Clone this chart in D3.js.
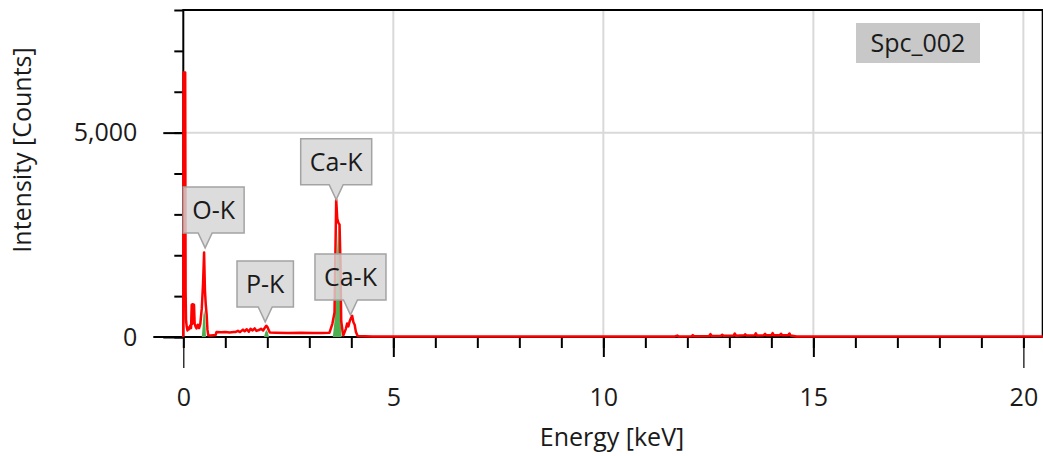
<!DOCTYPE html>
<html>
<head>
<meta charset="utf-8">
<script src="https://cdn.jsdelivr.net/npm/d3@7"></script>
<style>
  body { margin: 0; background: #fff; }
  svg text { font-family: "Open Sans", "Noto Sans", sans-serif; fill: #1a1a1a; }
</style>
</head>
<body>
<script>
// spectrum (keV / counts)
var specKeV = [0.000, 0.005, 0.045, 0.055, 0.065, 0.080, 0.100, 0.120, 0.140, 0.165,
  0.185, 0.200, 0.212, 0.225, 0.240, 0.255, 0.270, 0.290, 0.315, 0.345,
  0.375, 0.405, 0.440, 0.470, 0.495, 0.515, 0.535, 0.555, 0.575, 0.595,
  0.650, 0.720, 0.770, 0.790, 0.900, 1.000, 1.100, 1.200, 1.250, 1.300,
  1.350, 1.420, 1.460, 1.510, 1.560, 1.600, 1.650, 1.700, 1.740, 1.800,
  1.850, 1.900, 1.950, 1.975, 2.000, 2.030, 2.060, 2.200, 2.500, 2.800,
  3.100, 3.300, 3.480, 3.510, 3.550, 3.600, 3.640, 3.665, 3.690, 3.720,
  3.740, 3.760, 3.790, 3.810, 3.840, 3.870, 3.900, 3.930, 3.960, 3.990,
  4.020, 4.050, 4.080, 4.110, 4.150, 4.500, 6.000, 8.000, 10.000, 11.700,
  11.760, 11.790, 12.100, 12.130, 12.160, 12.520, 12.550, 12.580, 12.800, 12.830,
  12.860, 13.100, 13.130, 13.160, 13.350, 13.380, 13.410, 13.600, 13.630, 13.660,
  13.820, 13.850, 13.880, 14.000, 14.030, 14.060, 14.200, 14.230, 14.260, 14.400,
  14.430, 14.460, 14.600, 20.460];
var specCounts = [0, 6470, 6470, 1100, 420, 260, 160, 230, 190, 280,
  220, 790, 320, 800, 420, 790, 330, 260, 210, 300,
  220, 320, 700, 1300, 2070, 1150, 790, 560, 180, 40,
  35, 45, 50, 120, 115, 120, 110, 120, 125, 150,
  120, 180, 140, 190, 130, 200, 160, 210, 150, 170,
  200, 160, 240, 275, 250, 180, 110, 105, 100, 105,
  100, 100, 105, 200, 330, 600, 3360, 2900, 2800, 2750,
  1900, 380, 160, 40, 120, 200, 330, 260, 380, 460,
  520, 360, 300, 120, 25, 15, 15, 15, 15, 15,
  35, 15, 20, 45, 20, 25, 70, 25, 30, 55,
  30, 35, 85, 30, 40, 65, 35, 40, 90, 35,
  45, 75, 40, 45, 95, 40, 45, 80, 40, 45,
  85, 35, 15, 10];

// fitted element peaks (green)
var fitO = [[0.44, 0], [0.46, 250], [0.48, 550], [0.50, 660], [0.52, 500], [0.54, 0]];
var fitP = [[1.92, 0], [1.95, 110], [1.98, 170], [2.01, 120], [2.04, 0]];
var fitCa = [[3.56, 0], [3.60, 400], [3.63, 900], [3.66, 2000], [3.69, 2800], [3.72, 1800], [3.75, 300], [3.77, 0]];

// peak labels
var peakNames = ["O-K", "P-K", "Ca-K", "Ca-K"];
var peakKeV = [0.52, 1.95, 3.64, 3.98];
var peakCounts = [2180, 370, 3360, 540];

var xMajor = [0, 5, 10, 15, 20];
var yMajor = [0, 5000];
var seriesName = "Spc_002";

var w = 1043;
var h = 456;
var pLeft = 183.3, pRight = 1042.7, pTop = 10, pBottom = 337;
var fs = "25px";

var svg = d3.select("body").append("svg")
  .attr("width", w)
  .attr("height", h);

var x = d3.scaleLinear().domain([0, 20.46]).range([pLeft, pRight]);
var y = d3.scaleLinear().domain([0, 8000]).range([pBottom, pTop]);

// grid
svg.selectAll("line.gx").data([5, 10, 15, 20])
  .enter().append("line")
  .attr("x1", function(d) { return x(d); })
  .attr("x2", function(d) { return x(d); })
  .attr("y1", pTop).attr("y2", pBottom)
  .attr("stroke", "#d9d9d9").attr("stroke-width", 2);
svg.append("line")
  .attr("x1", pLeft).attr("x2", pRight)
  .attr("y1", y(5000)).attr("y2", y(5000))
  .attr("stroke", "#d9d9d9").attr("stroke-width", 2);

// frame
svg.append("path")
  .attr("d", "M" + pLeft + "," + pBottom + "V" + pTop + "H" + pRight + "V" + pBottom)
  .attr("fill", "none").attr("stroke", "#000").attr("stroke-width", 2);

// x axis: minor ticks, then major
var xMinor = svg.append("g").attr("transform", "translate(0," + pBottom + ")")
  .call(d3.axisBottom(x).tickValues(d3.range(0, 21)).tickSize(11).tickFormat(""));
var xAxis = svg.append("g").attr("transform", "translate(0," + pBottom + ")")
  .call(d3.axisBottom(x).tickValues(xMajor).tickSize(20));
xMinor.select(".domain").remove();
xAxis.select(".domain").attr("d", "M" + (pLeft - 30) + ",0H" + pRight).attr("stroke-width", 2);
xMinor.selectAll("line").attr("stroke-width", 2);
xAxis.selectAll(".tick line")
  .attr("stroke-width", function(d) { return (d == 0 || d == 20) ? 1.2 : 2; })
  .attr("y2", function(d) { return (d == 0 || d == 20) ? 31 : 20; });
xAxis.selectAll("text").attr("font-size", fs).attr("fill", "#1a1a1a")
  .attr("y", 69).attr("dy", 0)
  .attr("font-family", "Open Sans");

// y axis
var yMinor = svg.append("g").attr("transform", "translate(" + pLeft + ",0)")
  .call(d3.axisLeft(y).tickValues(d3.range(0, 8001, 1000)).tickSize(9).tickFormat(""));
var yAxis = svg.append("g").attr("transform", "translate(" + pLeft + ",0)")
  .call(d3.axisLeft(y).tickValues(yMajor).tickSize(20).tickPadding(26).tickFormat(d3.format(",")));
yMinor.select(".domain").remove();
yAxis.select(".domain").remove();
yMinor.selectAll("line").attr("stroke-width", 2);
yAxis.selectAll(".tick line").attr("stroke-width", 2);
yAxis.selectAll("text").attr("font-size", fs).attr("fill", "#1a1a1a")
  .attr("font-family", "Open Sans");

// axis titles
svg.append("text")
  .attr("x", 612).attr("y", 446)
  .attr("text-anchor", "middle").attr("font-size", fs)
  .text("Energy [keV]");
svg.append("text")
  .attr("transform", "translate(31,150) rotate(-90)")
  .attr("text-anchor", "middle").attr("font-size", fs)
  .text("Intensity [Counts]");

// green fits
var area = d3.area()
  .x(function(d) { return x(d[0]); })
  .y0(y(0))
  .y1(function(d) { return y(d[1]); });
svg.selectAll("path.fit").data([fitO, fitP, fitCa])
  .enter().append("path")
  .attr("d", area)
  .attr("fill", "#4caf50");

// spectrum
var spec = specKeV.map(function(k, i) { return [k, specCounts[i]]; });
var line = d3.line()
  .x(function(d) { return x(d[0]); })
  .y(function(d) { return y(d[1]); });
svg.append("path")
  .datum(spec)
  .attr("d", line)
  .attr("fill", "none")
  .attr("stroke", "#ff0000")
  .attr("stroke-width", 2.5)
  .attr("stroke-linejoin", "round");

// peak labels
var boxH = 46, gap = 15;
var labels = svg.selectAll("g.lab").data(peakNames)
  .enter().append("g");
labels.each(function(name, i) {
  var g = d3.select(this);
  var tx = x(peakKeV[i]);
  var ty = y(peakCounts[i]);
  var t = g.append("text")
    .attr("font-size", fs)
    .attr("text-anchor", "middle")
    .text(name);
  var bw = t.node().getComputedTextLength() + 18;
  var bx = Math.max(tx - bw / 2, pLeft);
  var by = ty - gap - boxH;
  g.insert("path", "text")
    .attr("d", "M" + bx + "," + by + "H" + (bx + bw) + "V" + (by + boxH) +
      "H" + (tx + 7) + "L" + tx + "," + ty + "L" + (tx - 7) + "," + (by + boxH) +
      "H" + bx + "Z")
    .attr("fill", "#d4d4d4").attr("fill-opacity", 0.82)
    .attr("stroke", "#a3a3a3").attr("stroke-width", 1.5);
  t.attr("x", bx + bw / 2).attr("y", by + boxH / 2 + 9);
});

// series tag
svg.append("rect")
  .attr("x", 856).attr("y", 23).attr("width", 124).attr("height", 40)
  .attr("fill", "#c8c8c8");
svg.append("text")
  .attr("x", 918).attr("y", 52)
  .attr("text-anchor", "middle").attr("font-size", fs)
  .text(seriesName);
</script>
</body>
</html>
